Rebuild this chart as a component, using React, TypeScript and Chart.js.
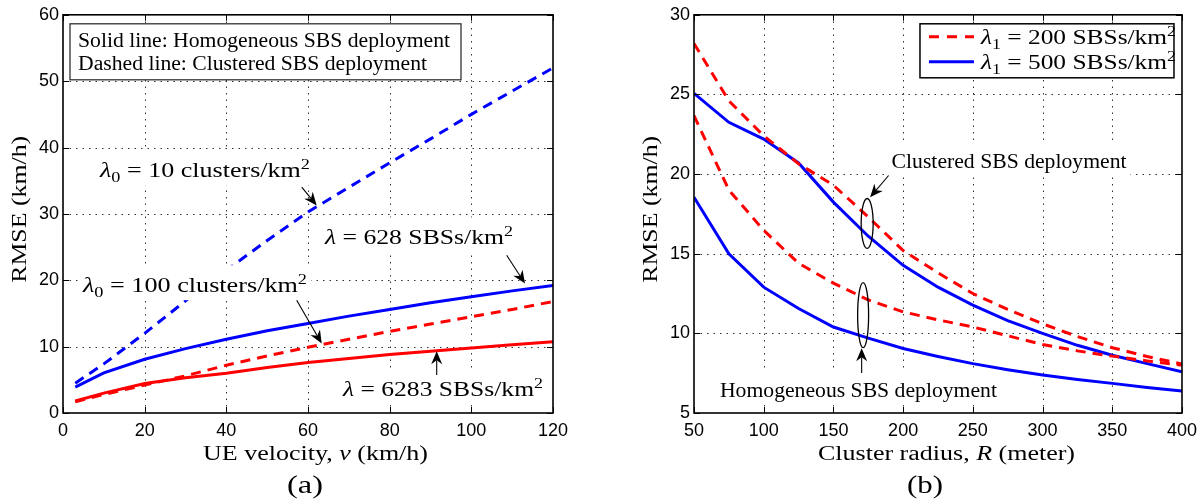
import React, { useEffect, useRef } from "react";
import { Chart, registerables } from "chart.js";

Chart.register(...registerables);

// ---------------- Panel (a): RMSE vs UE velocity ----------------
const velocity = [3, 10, 20, 30, 40, 50, 60, 70, 80, 90, 100, 110, 120];
const clustered10 = [4.5, 7.4, 12.0, 16.9, 21.5, 26.0, 30.3, 34.0, 37.7, 41.3, 45.0, 48.5, 52.0];
const homogeneous628 = [3.9, 6.05, 8.1, 9.7, 11.1, 12.4, 13.5, 14.6, 15.6, 16.6, 17.5, 18.4, 19.2];
const clustered100 = [1.7, 2.8, 4.2, 5.6, 7.2, 8.6, 9.9, 11.1, 12.3, 13.4, 14.5, 15.6, 16.8];
const homogeneous6283 = [1.8, 3.0, 4.45, 5.3, 6.0, 6.85, 7.6, 8.2, 8.8, 9.3, 9.8, 10.3, 10.75];
const velocityAxis = { min: 0, max: 120, step: 20 };
const rmseAxisA = { min: 0, max: 60, step: 10 };

// ---------------- Panel (b): RMSE vs cluster radius ----------------
const radius = [50, 75, 100, 125, 150, 175, 200, 225, 250, 275, 300, 325, 350, 375, 400];
const clustered200 = [28.2, 24.6, 22.4, 20.65, 19.3, 17.3, 15.2, 13.8, 12.5, 11.5, 10.6, 9.8, 9.1, 8.55, 8.07];
const clustered500 = [25.07, 23.25, 22.2, 20.7, 18.24, 16.1, 14.27, 12.9, 11.77, 10.8, 10.0, 9.25, 8.63, 8.1, 7.59];
const homogeneous200 = [23.67, 19.0, 16.47, 14.4, 13.15, 12.1, 11.35, 10.85, 10.4, 9.85, 9.3, 8.9, 8.57, 8.27, 8.0];
const homogeneous500 = [18.55, 15.0, 12.9, 11.56, 10.4, 9.7, 9.05, 8.55, 8.1, 7.72, 7.38, 7.1, 6.86, 6.6, 6.38];
const radiusAxis = { min: 50, max: 400, step: 50 };
const rmseAxisB = { min: 5, max: 30, step: 5 };

// ---------------- Text ----------------
type Part = { t: string; it?: boolean; sub?: boolean; sup?: boolean };
const yTitle: Part[] = [{ t: "RMSE (km/h)" }];
const xTitleA: Part[] = [{ t: "UE velocity, " }, { t: "v", it: true }, { t: " (km/h)" }];
const xTitleB: Part[] = [{ t: "Cluster radius, " }, { t: "R", it: true }, { t: " (meter)" }];
const captionA: Part[] = [{ t: "(a)" }];
const captionB: Part[] = [{ t: "(b)" }];
const noteSolid: Part[] = [{ t: "Solid line: Homogeneous SBS deployment" }];
const noteDashed: Part[] = [{ t: "Dashed line: Clustered SBS deployment" }];
const lblClustered10: Part[] = [{ t: "λ", it: true }, { t: "0", sub: true }, { t: " = 10 clusters/km" }, { t: "2", sup: true }];
const lblHomog628: Part[] = [{ t: "λ", it: true }, { t: " = 628 SBSs/km" }, { t: "2", sup: true }];
const lblClustered100: Part[] = [{ t: "λ", it: true }, { t: "0", sub: true }, { t: " = 100 clusters/km" }, { t: "2", sup: true }];
const lblHomog6283: Part[] = [{ t: "λ", it: true }, { t: " = 6283 SBSs/km" }, { t: "2", sup: true }];
const lblClusteredDep: Part[] = [{ t: "Clustered SBS deployment" }];
const lblHomogDep: Part[] = [{ t: "Homogeneous SBS deployment" }];
const legend200: Part[] = [{ t: "λ", it: true }, { t: "1", sub: true }, { t: " = 200 SBSs/km" }, { t: "2", sup: true }];
const legend500: Part[] = [{ t: "λ", it: true }, { t: "1", sub: true }, { t: " = 500 SBSs/km" }, { t: "2", sup: true }];

const RED = "#ff0000";
const BLUE = "#0000ff";
const DASH = [10, 7];
const SERIF = '"Liberation Serif", "Times New Roman", serif';
const SANS = '"Liberation Sans", Arial, sans-serif';

function partFont(p: Part, size: number) {
  const s = p.sub || p.sup ? size * 0.7 : size;
  return `${p.it ? "italic " : ""}${s}px ${SERIF}`;
}
function measureRich(ctx: CanvasRenderingContext2D, parts: Part[], size: number) {
  let w = 0;
  for (const p of parts) {
    ctx.font = partFont(p, size);
    w += ctx.measureText(p.t).width;
  }
  return w;
}
function drawRich(
  ctx: CanvasRenderingContext2D,
  parts: Part[],
  x: number,
  y: number,
  size: number,
  targetW?: number,
  align: "left" | "center" = "left",
  bg = false
) {
  const w = measureRich(ctx, parts, size);
  const sx = targetW ? targetW / w : 1;
  const W = w * sx;
  const x0 = align === "center" ? x - W / 2 : x;
  if (bg) {
    ctx.save();
    ctx.fillStyle = "#fff";
    ctx.fillRect(x0 - 4, y - size * 1.35, W + 8, size * 1.75);
    ctx.restore();
  }
  ctx.save();
  ctx.translate(x0, y);
  ctx.scale(sx, 1);
  ctx.fillStyle = "#000";
  ctx.textAlign = "left";
  ctx.textBaseline = "alphabetic";
  let cx = 0;
  for (const p of parts) {
    ctx.font = partFont(p, size);
    const dy = p.sub ? size * 0.22 : p.sup ? -size * 0.42 : 0;
    ctx.fillText(p.t, cx, dy);
    cx += ctx.measureText(p.t).width;
  }
  ctx.restore();
}
function arrow(ctx: CanvasRenderingContext2D, x1: number, y1: number, x2: number, y2: number) {
  const ang = Math.atan2(y2 - y1, x2 - x1);
  const L = 13, Wd = 5.5, back = 4;
  ctx.save();
  ctx.strokeStyle = "#000";
  ctx.fillStyle = "#000";
  ctx.lineWidth = 1.1;
  ctx.beginPath();
  ctx.moveTo(x1, y1);
  ctx.lineTo(x2 - (L - back) * Math.cos(ang), y2 - (L - back) * Math.sin(ang));
  ctx.stroke();
  ctx.translate(x2, y2);
  ctx.rotate(ang);
  ctx.beginPath();
  ctx.moveTo(0, 0);
  ctx.lineTo(-L, -Wd);
  ctx.lineTo(-L + back, 0);
  ctx.lineTo(-L, Wd);
  ctx.closePath();
  ctx.fill();
  ctx.restore();
}
function ellipse(ctx: CanvasRenderingContext2D, cx: number, cy: number, rx: number, ry: number) {
  ctx.save();
  ctx.strokeStyle = "#000";
  ctx.lineWidth = 1.3;
  ctx.beginPath();
  ctx.ellipse(cx, cy, rx, ry, 0, 0, Math.PI * 2);
  ctx.stroke();
  ctx.restore();
}

type Area = { left: number; right: number; top: number; bottom: number; width: number; height: number };
type Decor = (ctx: CanvasRenderingContext2D, X: (v: number) => number, Y: (v: number) => number, a: Area) => void;
type Ax = { min: number; max: number; step: number };

function decorPlugin(decor: Decor, xAx: Ax, yAx: Ax) {
  return {
    id: "decor",
    beforeDatasetsDraw(chart: any) {
      const ctx: CanvasRenderingContext2D = chart.ctx;
      const a: Area = chart.chartArea;
      const X = (v: number) => chart.scales.x.getPixelForValue(v);
      const Y = (v: number) => chart.scales.y.getPixelForValue(v);
      ctx.save();
      ctx.strokeStyle = "rgba(0,0,0,0.8)";
      ctx.lineWidth = 1;
      ctx.setLineDash([1.5, 5]);
      ctx.beginPath();
      for (let v = xAx.min + xAx.step; v < xAx.max - 1e-9; v += xAx.step) {
        const px = Math.round(X(v)) + 0.5;
        ctx.moveTo(px, a.bottom); ctx.lineTo(px, a.top);
      }
      for (let v = yAx.min + yAx.step; v < yAx.max - 1e-9; v += yAx.step) {
        const py = Math.round(Y(v)) + 0.5;
        ctx.moveTo(a.left, py); ctx.lineTo(a.right, py);
      }
      ctx.stroke();
      ctx.restore();
    },
    afterDatasetsDraw(chart: any) {
      const ctx: CanvasRenderingContext2D = chart.ctx;
      const a: Area = chart.chartArea;
      const X = (v: number) => chart.scales.x.getPixelForValue(v);
      const Y = (v: number) => chart.scales.y.getPixelForValue(v);
      ctx.save();
      ctx.strokeStyle = "#000";
      ctx.lineWidth = 1.6;
      ctx.strokeRect(a.left, a.top, a.width, a.height);
      ctx.lineWidth = 1;
      ctx.beginPath();
      for (let v = xAx.min; v <= xAx.max + 1e-9; v += xAx.step) {
        const px = Math.round(X(v)) + 0.5;
        ctx.moveTo(px, a.bottom); ctx.lineTo(px, a.bottom - 6);
        ctx.moveTo(px, a.top); ctx.lineTo(px, a.top + 6);
      }
      for (let v = yAx.min; v <= yAx.max + 1e-9; v += yAx.step) {
        const py = Math.round(Y(v)) + 0.5;
        ctx.moveTo(a.left, py); ctx.lineTo(a.left + 6, py);
        ctx.moveTo(a.right, py); ctx.lineTo(a.right - 6, py);
      }
      ctx.stroke();
      ctx.restore();
      decor(ctx, X, Y, a);
    },
  };
}

function line(xs: number[], ys: number[], color: string, dashed: boolean) {
  return {
    data: xs.map((x, i) => ({ x, y: ys[i] })),
    borderColor: color,
    backgroundColor: color,
    borderWidth: 3,
    borderDash: dashed ? DASH : [],
    pointRadius: 0,
    fill: false,
    tension: 0,
  };
}

function makeConfig(datasets: any[], xAx: Ax, yAx: Ax, yAxisWidth: number, padRight: number, decor: Decor): any {
  const tickFont = { family: SANS, size: 18 };
  const grid = { display: false, drawTicks: false };
  const border = { display: false };
  return {
    type: "line",
    data: { datasets },
    options: {
      responsive: false,
      animation: false,
      devicePixelRatio: 1,
      events: [],
      layout: { padding: { left: 0, top: 14, right: padRight, bottom: 0 } },
      plugins: { legend: { display: false }, tooltip: { enabled: false }, title: { display: false } },
      scales: {
        x: {
          type: "linear",
          min: xAx.min,
          max: xAx.max,
          ticks: { stepSize: xAx.step, font: tickFont, color: "#000", padding: 7, maxRotation: 0 },
          grid,
          border,
          afterFit: (s: any) => { s.height = 91; },
        },
        y: {
          type: "linear",
          min: yAx.min,
          max: yAx.max,
          ticks: { stepSize: yAx.step, font: tickFont, color: "#000", padding: 4 },
          grid,
          border,
          afterFit: (s: any) => { s.width = yAxisWidth; },
        },
      },
    },
    plugins: [decorPlugin(decor, xAx, yAx)],
  };
}

const decorA: Decor = (ctx, X, Y, a) => {
  ctx.save();
  ctx.fillStyle = "#fff";
  ctx.fillRect(a.left + 7, a.top + 9, 391, 56);
  ctx.strokeStyle = "#333";
  ctx.lineWidth = 1.3;
  ctx.strokeRect(a.left + 7, a.top + 9, 391, 56);
  ctx.restore();
  drawRich(ctx, noteSolid, a.left + 15, a.top + 32, 20, 372);
  drawRich(ctx, noteDashed, a.left + 15, a.top + 55.5, 20, 349);

  drawRich(ctx, lblClustered10, X(9.06), Y(35.49), 20, 210, "left", true);
  arrow(ctx, X(58.46), Y(34.03), X(62.13), Y(31.28));
  drawRich(ctx, lblHomog628, X(64.16), Y(25.41), 20, 188, "left", true);
  arrow(ctx, X(108.66), Y(23.76), X(113.14), Y(19.5));
  drawRich(ctx, lblClustered100, X(4.9), Y(18.2), 20, 224, "left", true);
  arrow(ctx, X(57.23), Y(16.99), X(63.36), Y(10.48));
  drawRich(ctx, lblHomog6283, X(68.57), Y(2.56), 20, 200, "left", true);
  arrow(ctx, X(91.52), Y(5.71), X(91.52), Y(9.32));

  ctx.save();
  ctx.translate(a.left - 37, a.top + 194.5);
  ctx.rotate(-Math.PI / 2);
  drawRich(ctx, yTitle, 0, 0, 20, 147, "center");
  ctx.restore();
  drawRich(ctx, xTitleA, a.left + 252.5, a.bottom + 47, 20, 225, "center");
  drawRich(ctx, captionA, a.left + 242, a.bottom + 80, 26, 36, "center");
};

const decorB: Decor = (ctx, X, Y, a) => {
  drawRich(ctx, lblClusteredDep, X(191.7), Y(20.41), 20, 235, "left", true);
  arrow(ctx, X(189.6), Y(19.91), X(176.3), Y(18.55));
  ellipse(ctx, X(174.2), Y(16.9), Math.abs(X(178.5) - X(174.2)), Math.abs(Y(16.9 - 1.566) - Y(16.9)));
  drawRich(ctx, lblHomogDep, X(68.6), Y(6.0), 20, 277, "left", true);
  arrow(ctx, X(170.25), Y(7.51), X(170.25), Y(9.07));
  ellipse(ctx, X(171.3), Y(11.14), Math.abs(X(175.24) - X(171.3)), Math.abs(Y(11.14 - 2.04) - Y(11.14)));

  const lx = a.right - 262, ly = a.top + 9;
  ctx.save();
  ctx.fillStyle = "#fff";
  ctx.fillRect(lx, ly, 254, 54);
  ctx.strokeStyle = "#000";
  ctx.lineWidth = 1.5;
  ctx.strokeRect(lx, ly, 254, 54);
  ctx.lineWidth = 3;
  ctx.strokeStyle = RED;
  ctx.setLineDash([10, 8]);
  ctx.beginPath();
  ctx.moveTo(lx + 9, ly + 13); ctx.lineTo(lx + 54, ly + 13);
  ctx.stroke();
  ctx.setLineDash([]);
  ctx.strokeStyle = BLUE;
  ctx.beginPath();
  ctx.moveTo(lx + 9, ly + 38); ctx.lineTo(lx + 54, ly + 38);
  ctx.stroke();
  ctx.restore();
  drawRich(ctx, legend200, lx + 61, ly + 20.5, 20, 195);
  drawRich(ctx, legend500, lx + 61, ly + 45.5, 20, 195);

  ctx.save();
  ctx.translate(a.left - 37.5, a.top + 194.5);
  ctx.rotate(-Math.PI / 2);
  drawRich(ctx, yTitle, 0, 0, 20, 147, "center");
  ctx.restore();
  drawRich(ctx, xTitleB, a.left + 252.5, a.bottom + 47, 20, 257, "center");
  drawRich(ctx, captionB, a.left + 231, a.bottom + 80, 26, 36, "center");
};

function Panel({ left, build }: { left: number; build: () => any }) {
  const ref = useRef<HTMLCanvasElement>(null);
  useEffect(() => {
    const chart = new Chart(ref.current as HTMLCanvasElement, build());
    return () => chart.destroy();
  }, []);
  return (
    <canvas
      ref={ref}
      width={602}
      height={504}
      style={{ position: "absolute", left, top: 0, width: 602, height: 504 }}
    />
  );
}

export default function App() {
  const buildA = () =>
    makeConfig(
      [
        line(velocity, clustered10, BLUE, true),
        line(velocity, homogeneous628, BLUE, false),
        line(velocity, clustered100, RED, true),
        line(velocity, homogeneous6283, RED, false),
      ],
      velocityAxis,
      rmseAxisA,
      63,
      49,
      decorA
    );
  const buildB = () =>
    makeConfig(
      [
        line(radius, clustered200, RED, true),
        line(radius, homogeneous200, RED, true),
        line(radius, clustered500, BLUE, false),
        line(radius, homogeneous500, BLUE, false),
      ],
      radiusAxis,
      rmseAxisB,
      92,
      21,
      decorB
    );
  return (
    <div style={{ position: "fixed", left: 0, top: 0, width: 1204, height: 504, background: "#fff" }}>
      <Panel left={0} build={buildA} />
      <Panel left={602} build={buildB} />
    </div>
  );
}
